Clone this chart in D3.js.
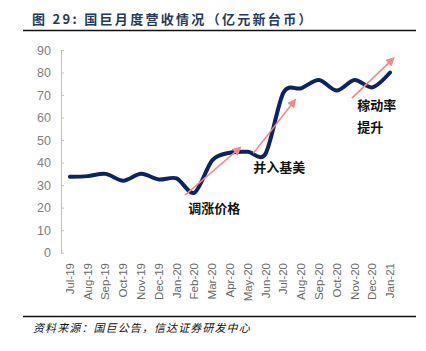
<!DOCTYPE html>
<html>
<head>
<meta charset="utf-8">
<script src="https://cdn.jsdelivr.net/npm/d3@7"></script>
<style>
  body { margin: 0; background: #fff; }
  svg { display: block; }
</style>
</head>
<body>
<div id="chart"></div>
<script>
// monthly revenue, 亿元新台币
const months = ["Jul-19", "Aug-19", "Sep-19", "Oct-19", "Nov-19", "Dec-19", "Jan-20",
    "Feb-20", "Mar-20", "Apr-20", "May-20", "Jun-20", "Jul-20", "Aug-20", "Sep-20",
    "Oct-20", "Nov-20", "Dec-20", "Jan-21"];
const revenue = [33.7, 34, 35, 32, 35, 32.5, 33, 26.6, 41, 44.4, 44.8, 44, 71, 73, 76.7, 72, 76.7, 73.4, 80];
const yTicks = [0, 10, 20, 30, 40, 50, 60, 70, 80, 90];

// arrows: [month index, value] start -> end
const arrows = [
    [[6.47, 25.6], [9.57, 46.6]],
    [[10.31, 44.1], [12.66, 67.8]],
    [[15.85, 68.6], [18.19, 86.3]]
];
// notes: text lines, anchor month index and value
const notes = [
    { lines: ["调涨价格"], i: 6.65, v: 17.5 },
    { lines: ["并入基美"], i: 10.3, v: 36 },
    { lines: ["稼动率", "提升"], i: 16.15, v: 63.5 }
];

const width = 426, height = 351;
const svg = d3.select("#chart").append("svg")
    .attr("width", width)
    .attr("height", height);

// title
svg.append("text")
    .attr("x", 32)
    .attr("y", 24)
    .attr("font-family", "'Noto Sans CJK SC', 'Liberation Sans', sans-serif")
    .attr("font-size", 13)
    .attr("font-weight", "bold")
    .attr("letter-spacing", 2.3)
    .attr("fill", "#253a5c")
    .text("图 29:  国巨月度营收情况（亿元新台币）");

svg.append("line")
    .attr("x1", 23).attr("x2", 416)
    .attr("y1", 30.5).attr("y2", 30.5)
    .attr("stroke", "#111").attr("stroke-width", 1.6);

const x = d3.scalePoint().domain(months).range([61, 399]).padding(0.5);
const xi = d3.scaleLinear().domain([0, months.length - 1])
    .range([x(months[0]), x(months[months.length - 1])]);
const y = d3.scaleLinear().domain([0, 90]).range([252.7, 50]);

// y axis, ticks pointing inward
const yAxis = svg.append("g")
    .attr("transform", "translate(61,0)")
    .call(d3.axisRight(y).tickValues(yTicks).tickSize(3).tickSizeOuter(0));
yAxis.select(".domain").attr("stroke", "#bfbfbf");
yAxis.selectAll(".tick line").attr("stroke", "#bfbfbf");
yAxis.selectAll(".tick text")
    .attr("x", -10)
    .attr("text-anchor", "end")
    .attr("font-family", "'Liberation Sans', Arial, sans-serif")
    .attr("font-size", 12.5)
    .attr("fill", "#7f7f7f");

// x labels, rotated
svg.append("g")
    .selectAll("text")
    .data(months)
    .join("text")
    .attr("transform", d => `translate(${x(d) + 4},263) rotate(-90)`)
    .attr("text-anchor", "end")
    .attr("font-family", "'Liberation Sans', Arial, sans-serif")
    .attr("font-size", 11.5)
    .attr("fill", "#6a6a6a")
    .text(d => d);

// revenue line
const line = d3.line()
    .x((d, i) => x(months[i]))
    .y(d => y(d))
    .curve(d3.curveCardinal.tension(0.1));

svg.append("path")
    .datum(revenue)
    .attr("d", line)
    .attr("fill", "none")
    .attr("stroke", "#0b2560")
    .attr("stroke-width", 4)
    .attr("stroke-linecap", "round");

// arrows
svg.append("defs").append("marker")
    .attr("id", "head")
    .attr("viewBox", "0 0 10 10")
    .attr("refX", 8).attr("refY", 5)
    .attr("markerWidth", 9).attr("markerHeight", 9)
    .attr("markerUnits", "userSpaceOnUse")
    .attr("orient", "auto")
    .append("path")
    .attr("d", "M0,0L10,5L0,10z")
    .attr("fill", "#fb8585");

svg.append("g")
    .selectAll("line")
    .data(arrows)
    .join("line")
    .attr("x1", d => xi(d[0][0])).attr("y1", d => y(d[0][1]))
    .attr("x2", d => xi(d[1][0])).attr("y2", d => y(d[1][1]))
    .attr("stroke", "#fb8585")
    .attr("stroke-width", 1.6)
    .attr("marker-end", "url(#head)");

// notes
notes.forEach(n => {
    n.lines.forEach((t, k) => {
        svg.append("text")
            .attr("x", xi(n.i))
            .attr("y", y(n.v) + k * 22)
            .attr("font-family", "'Noto Sans CJK SC', sans-serif")
            .attr("font-size", 13)
            .attr("font-weight", "bold")
            .attr("fill", "#111")
            .text(t);
    });
});

// source
svg.append("line")
    .attr("x1", 23).attr("x2", 416)
    .attr("y1", 316.5).attr("y2", 316.5)
    .attr("stroke", "#111").attr("stroke-width", 1.6);

svg.append("text")
    .attr("x", 33)
    .attr("y", 332)
    .attr("font-family", "'Noto Sans CJK SC', sans-serif")
    .attr("font-size", 11)
    .attr("font-style", "italic")
    .attr("letter-spacing", 1.1)
    .attr("fill", "#111")
    .text("资料来源：国巨公告，信达证券研发中心");
</script>
</body>
</html>
